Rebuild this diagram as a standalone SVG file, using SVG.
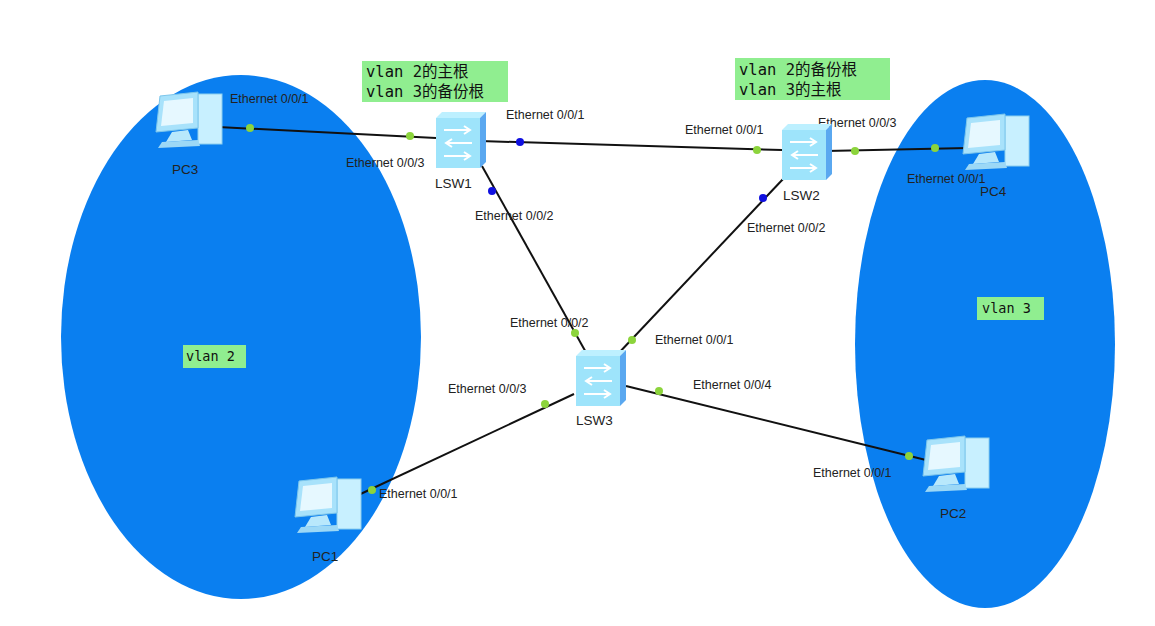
<svg xmlns="http://www.w3.org/2000/svg" width="1155" height="626" viewBox="0 0 1155 626">
<defs>
<style>
.e{font-family:"Liberation Sans",Arial,sans-serif;font-size:12.5px;fill:#222}
.n{font-family:"Liberation Sans",Arial,sans-serif;font-size:13.5px;fill:#222}
.m{font-family:"DejaVu Sans Mono","Noto Sans CJK SC",monospace;font-size:15.5px;fill:#111}
.s{font-family:"DejaVu Sans Mono","Noto Sans CJK SC",monospace;font-size:13.5px;fill:#111}
.lk{stroke:#111;stroke-width:2}
.g{fill:#8cd43c}.b{fill:#1010e0}
.lb{fill:#90ee90}
</style>
<g id="sw">
<path d="M-22,-22 L-16,-28 L28,-28 L22,-22 Z" fill="#bdf0ff"/>
<path d="M22,-22 L28,-28 L28,22 L22,28 Z" fill="#5aa8f0"/>
<rect x="-22" y="-22" width="44" height="50" fill="#9ee4fb"/>
<g stroke="#fff" stroke-width="2" fill="none">
<path d="M-14,-10 H12 M6,-14 L12,-10 L6,-6"/>
<path d="M14,3 H-12 M-6,-1 L-12,3 L-6,7"/>
<path d="M-14,16 H12 M6,12 L12,16 L6,20"/>
</g>
</g>
<g id="pc">
<rect x="10" y="-26" width="24" height="50" fill="#c8f0ff" stroke="#8ccfee"/>
<path d="M-28,-24 L10,-28 L10,8 L-32,12 Z" fill="#a8e2fb" stroke="#7cc6ec"/>
<path d="M-24,-19 L5,-22 L5,3 L-27,6 Z" fill="#e6f8ff"/>
<path d="M-16,12 L0,10 L4,20 L-22,22 Z" fill="#b8e8fc"/>
<path d="M-26,22 L10,20 L12,26 L-30,28 Z" fill="#9cd8f6"/>
</g>
</defs>
<rect width="1155" height="626" fill="#fff"/>
<ellipse cx="241" cy="337" rx="180" ry="262" fill="#0a7ff0"/>
<ellipse cx="985" cy="344" rx="130" ry="264" fill="#0a7ff0"/>
<g id="connectors">
<line class="lk" x1="218" y1="127" x2="436" y2="138"/>
<line class="lk" x1="480" y1="141" x2="782" y2="150"/>
<line class="lk" x1="826" y1="151" x2="968" y2="148"/>
<line class="lk" x1="482" y1="166" x2="588" y2="356"/>
<line class="lk" x1="784" y1="178" x2="616" y2="356"/>
<line class="lk" x1="574" y1="394" x2="352" y2="498"/>
<line class="lk" x1="626" y1="386" x2="934" y2="462"/>
<circle class="g" cx="250" cy="128" r="4"/><circle class="g" cx="410" cy="136" r="4"/>
<circle class="b" cx="520" cy="142" r="4"/><circle class="g" cx="757" cy="150" r="4"/>
<circle class="g" cx="855" cy="151" r="4"/><circle class="g" cx="935" cy="148" r="4"/>
<circle class="b" cx="492" cy="191" r="4"/><circle class="g" cx="575" cy="333" r="4"/>
<circle class="b" cx="763" cy="198" r="4"/><circle class="g" cx="632" cy="340" r="4"/>
<circle class="g" cx="545" cy="404" r="4"/><circle class="g" cx="372" cy="490" r="4"/>
<circle class="g" cx="659" cy="391" r="4"/><circle class="g" cx="909" cy="456" r="4"/>
<text class="e" x="230" y="103">Ethernet 0/0/1</text>
<text class="e" x="346" y="167">Ethernet 0/0/3</text>
<text class="e" x="506" y="119">Ethernet 0/0/1</text>
<text class="e" x="685" y="134">Ethernet 0/0/1</text>
<text class="e" x="818" y="127">Ethernet 0/0/3</text>
<text class="e" x="907" y="183">Ethernet 0/0/1</text>
<text class="e" x="475" y="220">Ethernet 0/0/2</text>
<text class="e" x="747" y="232">Ethernet 0/0/2</text>
<text class="e" x="510" y="327">Ethernet 0/0/2</text>
<text class="e" x="655" y="344">Ethernet 0/0/1</text>
<text class="e" x="448" y="393">Ethernet 0/0/3</text>
<text class="e" x="693" y="389">Ethernet 0/0/4</text>
<text class="e" x="379" y="498">Ethernet 0/0/1</text>
<text class="e" x="813" y="477">Ethernet 0/0/1</text>
</g>
<g id="LSW1"><use href="#sw" x="458" y="140"/><text class="n" x="435" y="188">LSW1</text></g>
<g id="LSW2"><use href="#sw" x="804" y="152"/><text class="n" x="783" y="200">LSW2</text></g>
<g id="LSW3"><use href="#sw" x="598" y="378"/><text class="n" x="576" y="425">LSW3</text></g>
<g id="PC3"><use href="#pc" x="188" y="120"/><text class="n" x="172" y="174">PC3</text></g>
<g id="PC4"><use href="#pc" x="995" y="142"/><text class="n" x="980" y="196">PC4</text></g>
<g id="PC1"><use href="#pc" x="327" y="505"/><text class="n" x="312" y="561">PC1</text></g>
<g id="PC2"><use href="#pc" x="955" y="464"/><text class="n" x="940" y="518">PC2</text></g>
<g id="label1"><rect class="lb" x="362" y="61" width="146" height="41"/><text class="m" x="366" y="77">vlan 2的主根</text><text class="m" x="366" y="97">vlan 3的备份根</text></g>
<g id="label2"><rect class="lb" x="735" y="58" width="155" height="42"/><text class="m" x="739" y="75">vlan 2的备份根</text><text class="m" x="739" y="95">vlan 3的主根</text></g>
<g id="vlan2"><rect class="lb" x="183" y="345" width="63" height="23"/><text class="s" x="186" y="361">vlan 2</text></g>
<g id="vlan3"><rect class="lb" x="977" y="297" width="67" height="23"/><text class="s" x="982" y="313">vlan 3</text></g>
</svg>
